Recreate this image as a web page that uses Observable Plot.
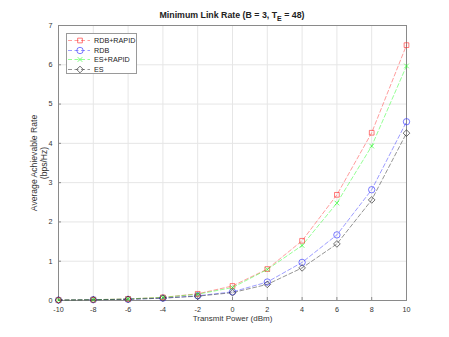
<!DOCTYPE html>
<html><head><meta charset="utf-8">
<script src="https://cdn.jsdelivr.net/npm/d3@7"></script>
<script src="https://cdn.jsdelivr.net/npm/@observablehq/plot@0.6"></script>
<style>
body{margin:0;background:#fff;}
#chart{position:relative;width:449px;height:337px;font-family:"Liberation Sans",Arial,sans-serif;}
#legend{position:absolute;left:66px;top:33px;width:71px;height:41px;border:1px solid #9a9a9a;background:#fff;box-sizing:border-box;padding-top:2px;}
.row{display:flex;align-items:center;height:9.5px;font-size:7.2px;color:#222;}
.row svg{margin-left:1px;margin-right:4px;}
</style>
</head><body>
<div id="chart"></div>
<script>
const powers = [-10, -8, -6, -4, -2, 0, 2, 4, 6, 8, 10];
const rdbRapid = [0.01, 0.02, 0.04, 0.08, 0.17, 0.37, 0.80, 1.52, 2.69, 4.27, 6.50];
const rdb      = [0.01, 0.02, 0.03, 0.06, 0.12, 0.22, 0.47, 0.97, 1.67, 2.82, 4.55];
const esRapid  = [0.01, 0.02, 0.04, 0.08, 0.16, 0.33, 0.79, 1.40, 2.48, 3.93, 5.97];
const es       = [0.01, 0.02, 0.03, 0.06, 0.11, 0.20, 0.41, 0.83, 1.44, 2.56, 4.26];
const seriesNames = ["RDB+RAPID", "RDB", "ES+RAPID", "ES"];
const seriesColors = ["#ff3030", "#3030ff", "#20ff20", "#202020"];
const seriesSymbols = ["square2", "circle", "times", "diamond2"];
const markerRadii = [3, 3.2, 2.2, 3];
const xTicks = [-10, -8, -6, -4, -2, 0, 2, 4, 6, 8, 10];
const yTicks = [0, 1, 2, 3, 4, 5, 6, 7];
const titleMain = "Minimum Link Rate (B = 3, T";
const titleSub = "E";
const titleEnd = " = 48)";
const xLabel = "Transmit Power (dBm)";
const yLabel = "Average Achievable Rate\n(bps/Hz)";

const allValues = [rdbRapid, rdb, esRapid, es];
const rows = allValues.flatMap((vals, i) => vals.map((v, j) => ({series: seriesNames[i], x: powers[j], y: v, r: markerRadii[i]})));

const plot = Plot.plot({
  width: 449, height: 337,
  marginTop: 25, marginBottom: 37, marginLeft: 58, marginRight: 43,
  style: {fontFamily: '"Liberation Sans", Arial, sans-serif', fontSize: "7.2px", color: "#333", background: "#fff"},
  x: {domain: [-10, 10], ticks: xTicks, label: null},
  y: {domain: [0, 7], ticks: yTicks, label: null},
  r: {type: "identity"},
  color: {domain: seriesNames, range: seriesColors},
  symbol: {domain: seriesNames, range: seriesSymbols},
  marks: [
    Plot.gridX(xTicks, {stroke: "#e6e6e6", strokeOpacity: 1}),
    Plot.gridY(yTicks, {stroke: "#e6e6e6", strokeOpacity: 1}),
    Plot.frame({stroke: "#8a8a8a"}),
    Plot.axisX({ticks: xTicks, tickSize: -3, tickPadding: 9, stroke: "#8a8a8a", tickFormat: d => d}),
    Plot.axisY({ticks: yTicks, tickSize: -3, tickPadding: 9, stroke: "#8a8a8a", tickFormat: d => d}),
    Plot.line(rows, {x: "x", y: "y", z: "series", stroke: "series", strokeWidth: 0.6, strokeOpacity: 0.8, strokeDasharray: "4,2.5"}),
    Plot.dot(rows, {x: "x", y: "y", stroke: "series", symbol: "series", r: "r", strokeWidth: 0.8, strokeOpacity: 0.8, fill: "none"}),
    Plot.text([xLabel], {frameAnchor: "bottom", dy: 20, fontSize: 8, fill: "#333"}),
    Plot.text([yLabel], {frameAnchor: "left", dx: -20, rotate: -90, fontSize: 8.6, fill: "#333", textAnchor: "middle", lineAnchor: "middle", lineHeight: 1.15})
  ]
});

const svg = d3.select(plot);
const t = svg.append("text")
  .attr("x", 232).attr("y", 18)
  .attr("text-anchor", "middle")
  .attr("font-weight", "bold").attr("font-size", 8.8).attr("fill", "#222");
t.append("tspan").text(titleMain);
t.append("tspan").attr("font-size", 7).attr("dy", 3).text(titleSub);
t.append("tspan").attr("dy", -3).text(titleEnd);

const chart = document.getElementById("chart");
chart.appendChild(plot);

const legend = document.createElement("div");
legend.id = "legend";
seriesNames.forEach((name, i) => {
  const row = document.createElement("div");
  row.className = "row";
  const s = d3.create("svg").attr("width", 22).attr("height", 9);
  s.append("line").attr("x1", 0).attr("x2", 22).attr("y1", 4.5).attr("y2", 4.5)
    .attr("stroke", seriesColors[i]).attr("stroke-width", 0.6).attr("stroke-opacity", 0.8).attr("stroke-dasharray", "4,2.5");
  const symMap = {square2: d3.symbolSquare2, circle: d3.symbolCircle, times: d3.symbolTimes, diamond2: d3.symbolDiamond2};
  s.append("path").attr("d", d3.symbol(symMap[seriesSymbols[i]], Math.PI * markerRadii[i] * markerRadii[i])())
    .attr("transform", "translate(12,4.5)").attr("fill", "none")
    .attr("stroke", seriesColors[i]).attr("stroke-width", 0.8).attr("stroke-opacity", 0.8);
  row.appendChild(s.node());
  const span = document.createElement("span");
  span.textContent = name;
  row.appendChild(span);
  legend.appendChild(row);
});
chart.appendChild(legend);
</script>
</body></html>
